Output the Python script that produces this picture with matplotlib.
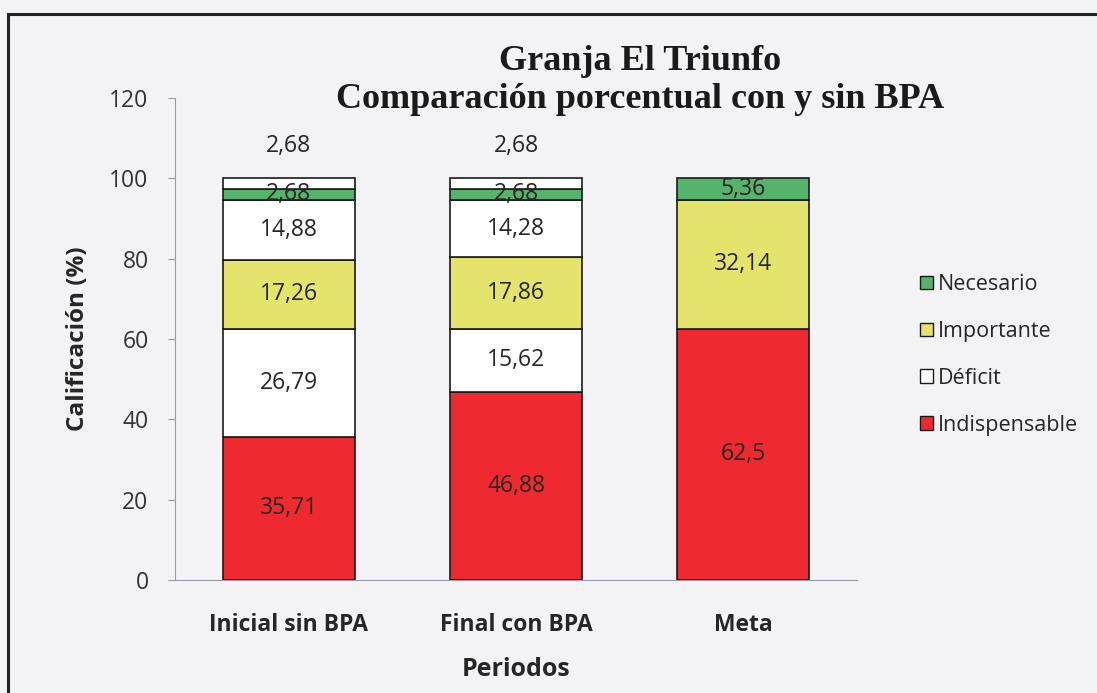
import matplotlib
matplotlib.use("Agg")
import matplotlib.pyplot as plt
from matplotlib.patches import Rectangle, Patch

categories = ["Inicial sin BPA", "Final con BPA", "Meta"]
indispensable = [35.71, 46.88, 62.5]
deficit_1 = [26.79, 15.62, 0]
importante = [17.26, 17.86, 32.14]
deficit_2 = [14.88, 14.28, 0]
necesario = [2.68, 2.68, 5.36]
deficit_3 = [2.68, 2.68, 0]
yticks = [0, 20, 40, 60, 80, 100, 120]

def fmt(v):
    s = f"{v:.2f}".rstrip("0").rstrip(".")
    return s.replace(".", ",")

W, H = 1097, 693
fig = plt.figure(figsize=(W / 100, H / 100), dpi=100)
bg = "#f3f3f5"
fig.patch.set_facecolor(bg)

# outer frame
fig.patches.append(Rectangle((8 / W, -0.05), 1.2, 1 - 14 / H + 0.05,
                             transform=fig.transFigure, fill=False,
                             edgecolor="#222222", linewidth=2.2))

ax = fig.add_axes([175 / W, (H - 580) / H, (857 - 175) / W, (580 - 98) / H])
ax.set_facecolor(bg)

red = "#ee2a30"
yellow = "#e4e46c"
green = "#55b36b"
white = "#ffffff"
sans = ["Open Sans", "DejaVu Sans"]

x = list(range(len(categories)))
bw = 0.58
layers = [
    (indispensable, red),
    (deficit_1, white),
    (importante, yellow),
    (deficit_2, white),
    (necesario, green),
    (deficit_3, white),
]
bottom = [0.0] * len(categories)
for li, (vals, col) in enumerate(layers):
    for i, v in enumerate(vals):
        if v <= 0:
            continue
        ax.bar(x[i], v, bottom=bottom[i], width=bw, color=col,
               edgecolor="#1a1a1a", linewidth=1.2, zorder=3)
        if li == 5:
            ypos = 108
        else:
            ypos = bottom[i] + v / 2
        ax.text(x[i], ypos, fmt(v), ha="center", va="center",
                fontsize=16.5, color="#262626", family=sans, zorder=4)
    bottom = [b + v for b, v in zip(bottom, vals)]

ax.set_xlim(-0.5, 2.5)
ax.set_ylim(0, 120)
ax.set_yticks(yticks)
ax.set_yticklabels([str(t) for t in yticks], fontsize=16.5, family=sans, color="#333333")
ax.set_xticks(x)
ax.set_xticklabels(categories, fontsize=16.5, family=sans, fontweight="bold", color="#262626")
ax.tick_params(axis="x", length=0, pad=24)
ax.tick_params(axis="y", length=5, color="#9a9aa8", pad=14)
for s in ["top", "right"]:
    ax.spines[s].set_visible(False)
ax.spines["left"].set_color("#9a9aa8")
ax.spines["bottom"].set_color("#9a9aa8")

ax.set_ylabel("Calificación (%)", fontsize=17.5, fontweight="bold", family=sans,
              color="#262626", labelpad=14)
ax.set_xlabel("Periodos", fontsize=18, fontweight="bold", family=sans,
              color="#262626", labelpad=14)

fig.text(640 / W, 1 - 62 / H, "Granja El Triunfo", ha="center", va="center",
         fontsize=26, fontweight="bold", family=["Liberation Serif", "DejaVu Serif"],
         color="#1a1a1a")
fig.text(640 / W, 1 - 100 / H, "Comparación porcentual con y sin BPA", ha="center",
         va="center", fontsize=26, fontweight="bold",
         family=["Liberation Serif", "DejaVu Serif"], color="#1a1a1a")

handles = [
    Patch(facecolor=green, edgecolor="#1a1a1a", label="Necesario"),
    Patch(facecolor=yellow, edgecolor="#1a1a1a", label="Importante"),
    Patch(facecolor=white, edgecolor="#1a1a1a", label="Déficit"),
    Patch(facecolor=red, edgecolor="#1a1a1a", label="Indispensable"),
]
leg = fig.legend(handles=handles, loc="center left",
                 bbox_to_anchor=(920 / W, 1 - 355 / H), frameon=False,
                 prop={"family": sans, "size": 15.5}, handlelength=0.6,
                 handleheight=0.6, handletextpad=0.25, labelspacing=1.2,
                 borderaxespad=0, borderpad=0)
for t in leg.get_texts():
    t.set_color("#262626")

fig.savefig("out.png", dpi=100, facecolor=bg)
